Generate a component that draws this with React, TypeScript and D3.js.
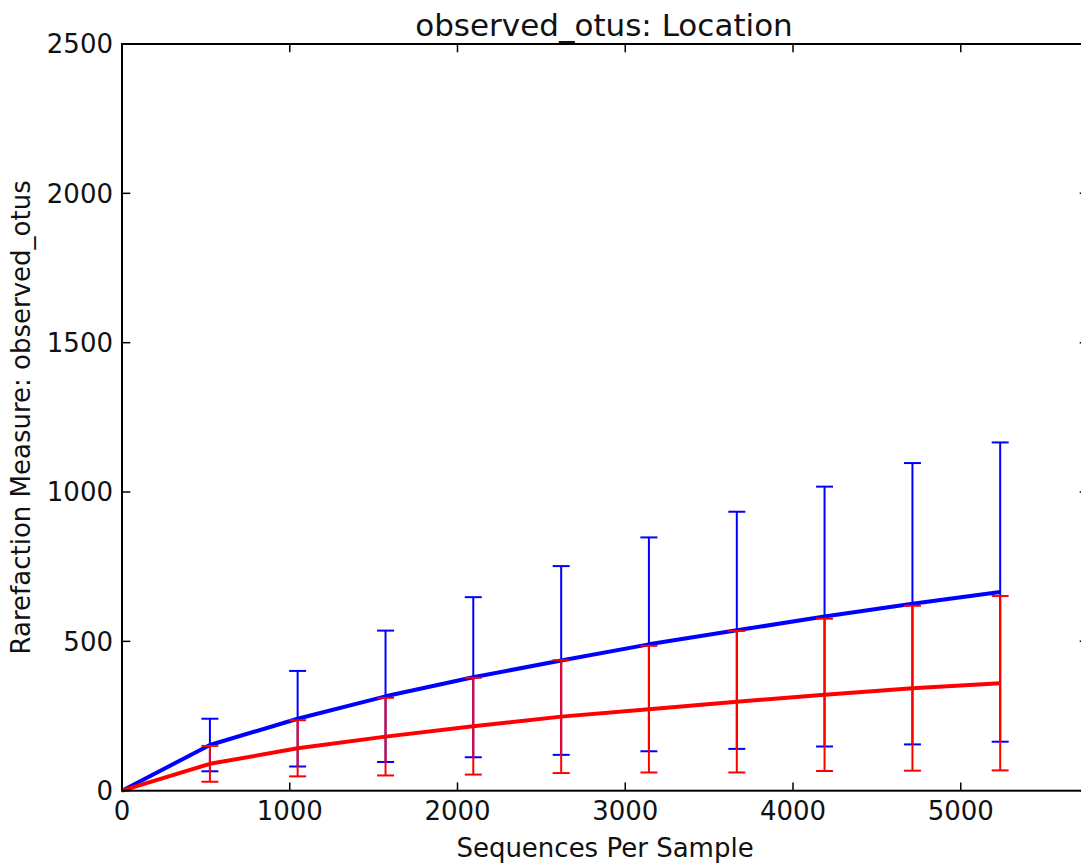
import React from "react";
import * as d3 from "d3";

const SEQS = [0, 524, 1047, 1571, 2094, 2618, 3141, 3665, 4188, 4712, 5235];
const BLUE_MEAN = [0, 153, 241, 316, 380, 436, 490, 537, 583, 626, 665];
const BLUE_ERR = [0, 88, 160, 220, 268, 316, 358, 397, 435, 471, 501];
const RED_MEAN = [0, 90, 142, 181, 216, 248, 273, 298, 321, 343, 360];
const RED_ERR = [0, 60, 94, 130, 162, 189, 212, 237, 255, 276, 292];
const X_TICKS = [0, 1000, 2000, 3000, 4000, 5000];
const Y_TICKS = [0, 500, 1000, 1500, 2000, 2500];
const TITLE = "observed_otus: Location";
const X_LABEL = "Sequences Per Sample";
const Y_LABEL = "Rarefaction Measure: observed_otus";

const W = 1081;
const H = 867;
const L = 122;
const R = 1088;
const T = 44;
const B = 790.7;
const FONT = "'DejaVu Sans', sans-serif";

export default function App() {
  const x = d3.scaleLinear().domain([0, 5758.5]).range([L, R]);
  const y = d3.scaleLinear().domain([0, 2500]).range([B, T]);
  const line = d3
    .line<[number, number]>()
    .x((d) => x(d[0]))
    .y((d) => y(d[1]));

  const series = [
    { color: "#0000ff", mean: BLUE_MEAN, err: BLUE_ERR },
    { color: "#ff0000", mean: RED_MEAN, err: RED_ERR },
  ];
  const cap = 8.5;
  const tick = 8.3;

  return (
    <div style={{ position: "absolute", left: 0, top: 0 }}>
      <svg width={W} height={H} style={{ display: "block", background: "#fff" }}>
        <rect x={0} y={0} width={W} height={H} fill="#fff" />
        {series.map((s, si) => (
          <g key={si}>
            {SEQS.map((sx, i) =>
              i === 0 ? null : (
                <g key={i} stroke={s.color} strokeWidth={2} fill="none">
                  <line x1={x(sx)} x2={x(sx)} y1={y(s.mean[i] - s.err[i])} y2={y(s.mean[i] + s.err[i])} />
                  <line x1={x(sx) - cap} x2={x(sx) + cap} y1={y(s.mean[i] + s.err[i])} y2={y(s.mean[i] + s.err[i])} />
                  <line x1={x(sx) - cap} x2={x(sx) + cap} y1={y(s.mean[i] - s.err[i])} y2={y(s.mean[i] - s.err[i])} />
                </g>
              )
            )}
            <path
              d={line(SEQS.map((sx, i) => [sx, s.mean[i]] as [number, number])) || ""}
              stroke={s.color}
              strokeWidth={4}
              fill="none"
              strokeLinejoin="round"
            />
          </g>
        ))}
        <rect x={L} y={T} width={R - L} height={B - T} fill="none" stroke="#000" strokeWidth={2} />
        {X_TICKS.map((t) => (
          <g key={"x" + t} stroke="#000" strokeWidth={1.5}>
            <line x1={x(t)} x2={x(t)} y1={B} y2={B - tick} />
            <line x1={x(t)} x2={x(t)} y1={T} y2={T + tick} />
          </g>
        ))}
        {Y_TICKS.map((t) => (
          <g key={"y" + t} stroke="#000" strokeWidth={1.5}>
            <line x1={L} x2={L + tick} y1={y(t)} y2={y(t)} />
            <line x1={R} x2={R - tick} y1={y(t)} y2={y(t)} />
          </g>
        ))}
        {X_TICKS.map((t) => (
          <text key={"xl" + t} x={x(t)} y={820} fontFamily={FONT} fontSize={26} textAnchor="middle" fill="#111">
            {t}
          </text>
        ))}
        {Y_TICKS.map((t) => (
          <text
            key={"yl" + t}
            x={113}
            y={y(t)}
            dy="0.36em"
            fontFamily={FONT}
            fontSize={26}
            textAnchor="end"
            fill="#111"
          >
            {t}
          </text>
        ))}
        <text x={(L + R) / 2} y={857} fontFamily={FONT} fontSize={26} textAnchor="middle" fill="#111">
          {X_LABEL}
        </text>
        <text
          transform={`translate(30, ${(T + B) / 2}) rotate(-90)`}
          fontFamily={FONT}
          fontSize={26}
          textAnchor="middle"
          fill="#111"
        >
          {Y_LABEL}
        </text>
        <text x={604} y={36} fontFamily={FONT} fontSize={31} textAnchor="middle" fill="#111">
          {TITLE}
        </text>
      </svg>
    </div>
  );
}
